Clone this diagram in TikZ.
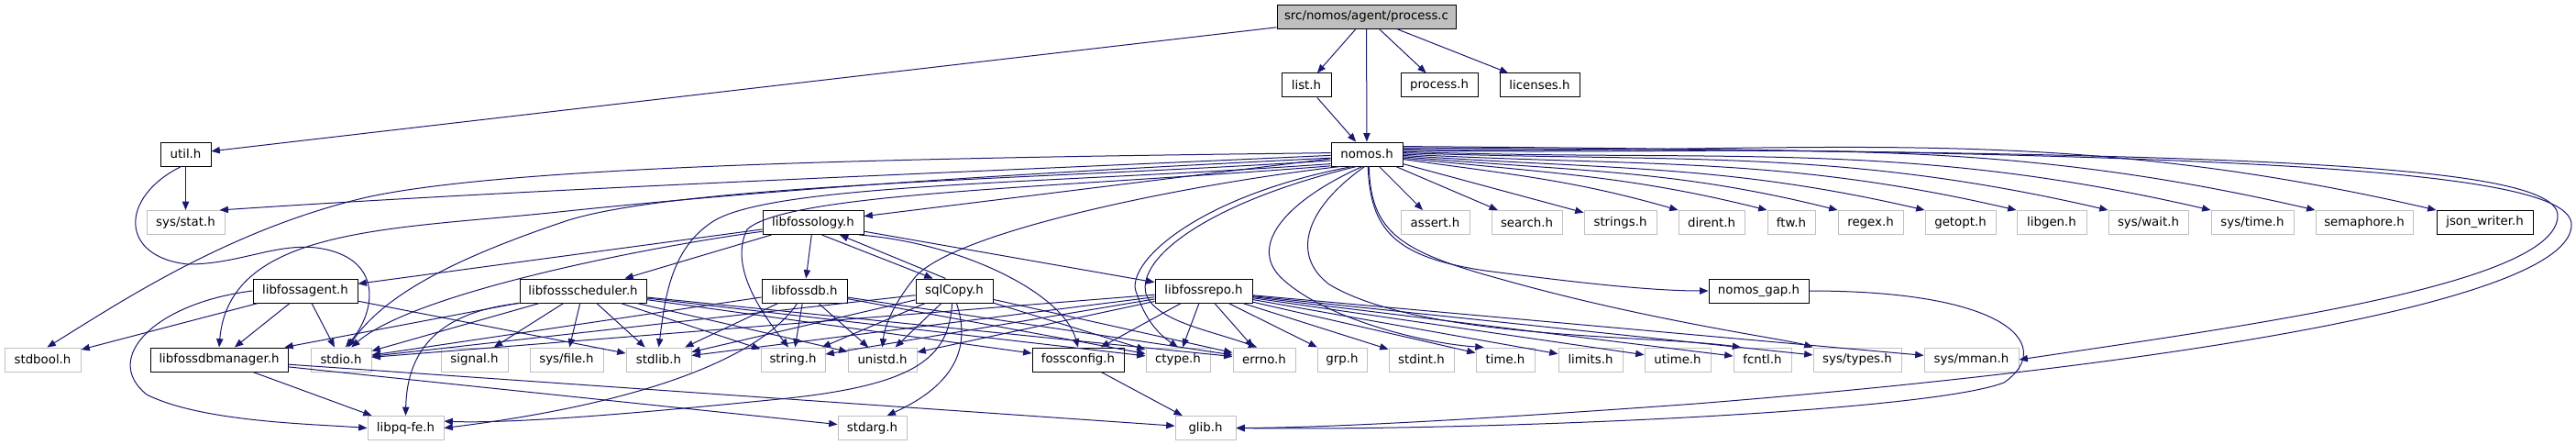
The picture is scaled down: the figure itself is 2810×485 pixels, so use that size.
\documentclass[tikz,border=0pt]{standalone}
\usepackage{fontspec}
\setmainfont{DejaVu Sans}
\usetikzlibrary{arrows.meta}
\definecolor{edgec}{HTML}{191970}
\definecolor{sysc}{HTML}{BFBFBF}
\begin{document}
\begin{tikzpicture}[x=0.75pt,y=-0.75pt,
 box/.style={draw, rectangle, line width=0.75pt, minimum height=19.5pt, inner sep=0pt, font=\fontsize{10}{12}\selectfont, fill=white},
 doc/.style={box, draw=black},
 sys/.style={box, draw=sysc},
 cur/.style={box, draw=black, fill=sysc},
 wd/.style={minimum width=#1*0.75pt},
 edg/.style={draw=edgec, line width=0.75pt, -{Triangle[length=7pt,width=5.5pt]}}]
\useasboundingbox[fill=white] (0,0) rectangle (2810,485);
% row 0-2
\node[cur,wd=195] (proc) at (1490.5,18.5) {src/nomos/agent/process.c};
\node[doc,wd=54] (list) at (1425,93) {list.h};
\node[doc,wd=84] (proch) at (1570,93) {process.h};
\node[doc,wd=87] (lic) at (1679.5,93) {licenses.h};
\node[doc,wd=55] (util) at (202.5,168) {util.h};
\node[doc,wd=78] (nomos) at (1491,168) {nomos.h};
% row 3
\node[sys,wd=85] (sysstat) at (202.5,242.5) {sys/stat.h};
\node[doc,wd=110] (lfo) at (887,242.5) {libfossology.h};
\node[sys,wd=75] (assert) at (1565.5,242.5) {assert.h};
\node[sys,wd=77] (search) at (1665.5,242.5) {search.h};
\node[sys,wd=79] (strings) at (1767.5,242.5) {strings.h};
\node[sys,wd=72] (dirent) at (1867,242.5) {dirent.h};
\node[sys,wd=52] (ftw) at (1954,242.5) {ftw.h};
\node[sys,wd=71] (regex) at (2040.5,242.5) {regex.h};
\node[sys,wd=77] (getopt) at (2138.5,242.5) {getopt.h};
\node[sys,wd=76] (libgen) at (2238,242.5) {libgen.h};
\node[sys,wd=87] (syswait) at (2343.5,242.5) {sys/wait.h};
\node[sys,wd=90] (systime) at (2457,242.5) {sys/time.h};
\node[sys,wd=106] (sema) at (2579,242.5) {semaphore.h};
\node[doc,wd=105] (json) at (2710.5,242.5) {json\_writer.h};
% row 4
\node[doc,wd=114] (lfagent) at (333,317) {libfossagent.h};
\node[doc,wd=138] (lfsched) at (636,317) {libfossscheduler.h};
\node[doc,wd=93] (lfdb) at (877.5,317) {libfossdb.h};
\node[doc,wd=84] (sqlcopy) at (1041,317) {sqlCopy.h};
\node[doc,wd=106] (lfrepo) at (1313,317) {libfossrepo.h};
\node[doc,wd=109] (ngap) at (1918.5,317) {nomos\_gap.h};
% row 5
\node[sys,wd=83] (stdbool) at (46.5,392) {stdbool.h};
\node[doc,wd=150] (ldbm) at (239,392) {libfossdbmanager.h};
\node[sys,wd=66] (stdio) at (372,392) {stdio.h};
\node[sys,wd=73] (signal) at (517.5,392) {signal.h};
\node[sys,wd=80] (sysfile) at (618,392) {sys/file.h};
\node[sys,wd=71] (stdlib) at (718.5,392) {stdlib.h};
\node[sys,wd=70] (string) at (865,392) {string.h};
\node[sys,wd=75] (unistd) at (962.5,392) {unistd.h};
\node[doc,wd=100] (fossconfig) at (1176,392) {fossconfig.h};
\node[sys,wd=70] (ctype) at (1285,392) {ctype.h};
\node[sys,wd=68] (errno) at (1379,392) {errno.h};
\node[sys,wd=54] (grp) at (1464,392) {grp.h};
\node[sys,wd=71] (stdint) at (1550.5,392) {stdint.h};
\node[sys,wd=64] (time) at (1642,392) {time.h};
\node[sys,wd=70] (limits) at (1735,392) {limits.h};
\node[sys,wd=72] (utime) at (1830,392) {utime.h};
\node[sys,wd=63] (fcntl) at (1922.5,392) {fcntl.h};
\node[sys,wd=96] (systypes) at (2026,392) {sys/types.h};
\node[sys,wd=103] (sysmman) at (2150.5,392) {sys/mman.h};
% row 6
\node[sys,wd=83] (libpq) at (442.5,466.5) {libpq-fe.h};
\node[sys,wd=75] (stdarg) at (951.5,466.5) {stdarg.h};
\node[sys,wd=66] (glib) at (1315,466.5) {glib.h};

% process.c
\draw[edg] (proc) -- (util);
\draw[edg] (proc) -- (list);
\draw[edg] (proc) -- (nomos);
\draw[edg] (proc) -- (proch);
\draw[edg] (proc) -- (lic);
\draw[edg] (list) -- (nomos);
% util
\draw[edg] (util) -- (sysstat);
\draw[edg] (util.250) .. controls (130,215) and (130,280) .. (205,288) .. controls (260,288) and (300,265) .. (345,270) .. controls (420,280) and (410,340) .. (stdio.70);
% nomos, left side
\draw[edg] (nomos.182) .. controls (1000,190) and (600,205) .. (sysstat.20);
\draw[edg] (nomos.178) .. controls (1000,172) and (560,180) .. (400,215) .. controls (250,250) and (130,330) .. (stdbool.70);
\draw[edg] (nomos.186) .. controls (1200,185) and (900,200) .. (600,232) .. controls (420,250) and (250,250) .. (ldbm.north);
\draw[edg] (nomos.190) .. controls (1150,195) and (750,200) .. (620,240) .. controls (500,280) and (420,320) .. (stdio.60);
\draw[edg] (nomos.195) .. controls (1150,200) and (850,200) .. (780,240) .. controls (730,270) and (725,330) .. (stdlib.north);
\draw[edg] (nomos.198) .. controls (1150,205) and (860,210) .. (815,250) .. controls (795,290) and (830,340) .. (string.110);
\draw[edg] (nomos) -- (lfo);
\draw[edg] (nomos.205) .. controls (1300,200) and (1050,250) .. (1000,300) .. controls (975,330) and (965,355) .. (unistd.north);
\draw[edg] (nomos.220) .. controls (1300,215) and (1225,290) .. (1240,320) .. controls (1250,350) and (1265,365) .. (ctype.north);
\draw[edg] (nomos.230) .. controls (1320,220) and (1240,280) .. (1250,320) .. controls (1260,350) and (1320,360) .. (errno.120);
\draw[edg] (nomos.250) .. controls (1400,220) and (1360,270) .. (1400,305) .. controls (1450,350) and (1560,375) .. (time.150);
\draw[edg] (nomos.260) .. controls (1420,230) and (1410,280) .. (1450,310) .. controls (1550,370) and (1800,365) .. (fcntl.150);
\draw[edg] (nomos.-85) .. controls (1495,250) and (1520,280) .. (1620,295) .. controls (1720,308) and (1800,317) .. (ngap.west);
\draw[edg] (nomos.-80) .. controls (1495,255) and (1530,275) .. (1640,305) .. controls (1800,350) and (1950,370) .. (systypes.north west);
% nomos, right side
\draw[edg] (nomos) -- (assert);
\draw[edg] (nomos) -- (search);
\draw[edg] (nomos) -- (strings);
\draw[edg] (nomos.-8) to[out=-8,in=164] (dirent.north west);
\draw[edg] (nomos.-6) to[out=-6,in=166] (ftw.north west);
\draw[edg] (nomos.-4) to[out=-5,in=166] (regex.north west);
\draw[edg] (nomos.-2) to[out=-4,in=167] (getopt.north west);
\draw[edg] (nomos.0) to[out=-3,in=167] (libgen.north west);
\draw[edg] (nomos.2) to[out=-2,in=167] (syswait.north west);
\draw[edg] (nomos.4) to[out=-2,in=167] (systime.north west);
\draw[edg] (nomos.6) to[out=-1,in=167] (sema.north west);
\draw[edg] (nomos.8) to[out=-1,in=167] (json.north west);
\draw[edg] (nomos.10) .. controls (2400,166) and (2790,175) .. (2790,235) .. controls (2790,310) and (2450,355) .. (sysmman.east);
\draw[edg] (nomos.12) .. controls (2450,166) and (2805,185) .. (2805,245) .. controls (2805,330) and (2350,400) .. (1850,440) .. controls (1600,458) and (1450,466) .. (glib.east);
% libfossology
\draw[edg] (lfo) -- (lfagent);
\draw[edg] (lfo.190) .. controls (700,270) and (450,320) .. (stdio.50);
\draw[edg] (lfo) -- (lfsched);
\draw[edg] (lfo) -- (lfdb);
\draw[edg] (lfo.-55) -- (sqlcopy.150);
\draw[edg] (sqlcopy.125) -- (lfo.-25);
\draw[edg] (lfo) -- (lfrepo);
\draw[edg] (lfo.-15) .. controls (1050,265) and (1160,320) .. (fossconfig.north);
% libfossagent
\draw[edg] (lfagent) -- (stdbool);
\draw[edg] (lfagent) -- (ldbm);
\draw[edg] (lfagent) -- (stdio);
\draw[edg] (lfagent) -- (stdlib);
\draw[edg] (lfagent.west) .. controls (170,330) and (110,390) .. (160,430) .. controls (220,460) and (340,462) .. (libpq.west);
% libfossscheduler
\draw[edg] (lfsched) -- (ldbm);
\draw[edg] (lfsched) -- (stdio);
\draw[edg] (lfsched) -- (signal);
\draw[edg] (lfsched) -- (sysfile);
\draw[edg] (lfsched) -- (stdlib);
\draw[edg] (lfsched) -- (string);
\draw[edg] (lfsched) -- (unistd);
\draw[edg] (lfsched) -- (fossconfig);
\draw[edg] (lfsched) -- (ctype);
\draw[edg] (lfsched) -- (errno);
\draw[edg] (lfsched.south west) .. controls (480,340) and (444,380) .. (libpq.north);
% libfossdb
\draw[edg] (lfdb) -- (stdio);
\draw[edg] (lfdb) -- (stdlib);
\draw[edg] (lfdb) -- (string);
\draw[edg] (lfdb) -- (unistd);
\draw[edg] (lfdb) -- (ctype);
\draw[edg] (lfdb) -- (errno);
\draw[edg] (lfdb.240) .. controls (830,390) and (700,440) .. (libpq.east);
% sqlCopy
\draw[edg] (sqlcopy) -- (stdio);
\draw[edg] (sqlcopy) -- (stdlib);
\draw[edg] (sqlcopy) -- (string);
\draw[edg] (sqlcopy) -- (unistd);
\draw[edg] (sqlcopy) -- (ctype);
\draw[edg] (sqlcopy) -- (errno);
\draw[edg] (sqlcopy.-80) .. controls (1060,380) and (1040,420) .. (stdarg.40);
\draw[edg] (sqlcopy.-100) .. controls (1035,390) and (1000,420) .. (850,435) .. controls (700,450) and (560,462) .. (libpq.10);
% libfossrepo
\draw[edg] (lfrepo) -- (stdio);
\draw[edg] (lfrepo) -- (stdlib);
\draw[edg] (lfrepo) -- (string);
\draw[edg] (lfrepo) -- (unistd);
\draw[edg] (lfrepo) -- (fossconfig);
\draw[edg] (lfrepo) -- (ctype);
\draw[edg] (lfrepo) -- (errno);
\draw[edg] (lfrepo) -- (grp);
\draw[edg] (lfrepo) -- (stdint);
\draw[edg] (lfrepo) -- (time);
\draw[edg] (lfrepo) -- (limits);
\draw[edg] (lfrepo) -- (utime);
\draw[edg] (lfrepo) -- (fcntl);
\draw[edg] (lfrepo) -- (systypes);
\draw[edg] (lfrepo) -- (sysmman);
% libfossdbmanager, fossconfig, nomos_gap
\draw[edg] (ldbm) -- (libpq);
\draw[edg] (ldbm) -- (stdarg);
\draw[edg] (ldbm) -- (glib);
\draw[edg] (fossconfig) -- (glib);
\draw[edg] (ngap.east) .. controls (2200,317) and (2240,380) .. (2186,417) .. controls (2100,450) and (1600,470) .. (glib.east);
\end{tikzpicture}
\end{document}
